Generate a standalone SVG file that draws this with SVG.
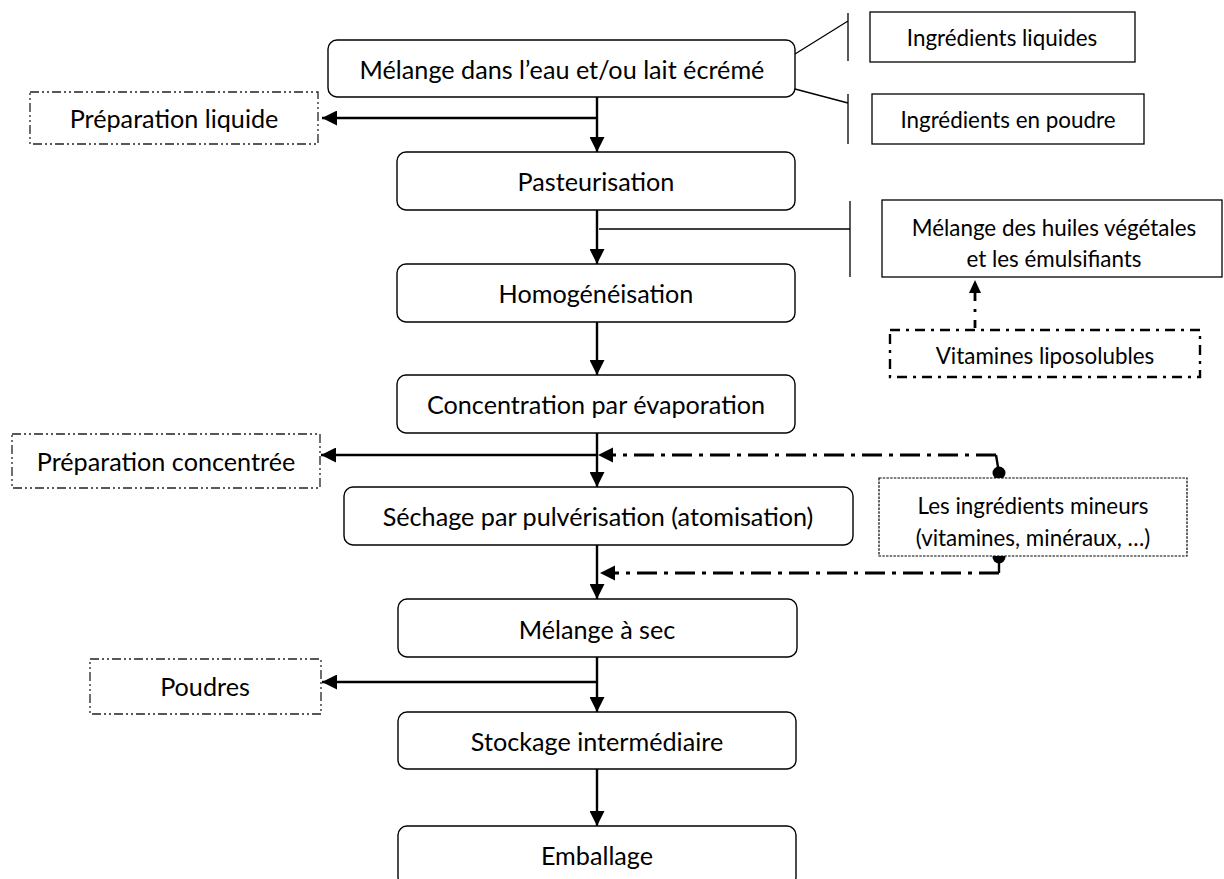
<svg xmlns="http://www.w3.org/2000/svg" width="1224" height="879" viewBox="0 0 1224 879">
<style>
text{font-family:Lato,"Liberation Sans",sans-serif;fill:#000;text-anchor:middle;dominant-baseline:central}
.m{font-size:25.2px}
.s{font-size:22.4px}
.step{fill:#fff;stroke:#000;stroke-width:1.4}
.out{fill:#fff;stroke:#222;stroke-width:1.3;stroke-dasharray:9 3 2 3 2 3}
.side{fill:#fff;stroke:#000;stroke-width:1.3}
.vit{fill:#fff;stroke:#000;stroke-width:2.4;stroke-dasharray:10 6 3 6}
.min{fill:#fff;stroke:#000;stroke-width:1.2;stroke-dasharray:2.5 1.2}
.a{fill:none;stroke:#000;stroke-width:2.4}
.thin{fill:none;stroke:#000;stroke-width:1.3}
.dd{fill:none;stroke:#000;stroke-width:2.8;stroke-dasharray:20 7 4 7}
</style>
<defs>
<marker id="ah" viewBox="0 0 15 15" refX="15" refY="7.5" markerWidth="15" markerHeight="15" markerUnits="userSpaceOnUse" orient="auto">
<path d="M0,0 L15,7.5 L0,15 Z" fill="#000"/>
</marker>
</defs>

<g id="connectors">
<path class="a" d="M597,97 V152" marker-end="url(#ah)"/>
<path class="a" d="M597,118 H322" marker-end="url(#ah)"/>
<path class="a" d="M597,210 V264" marker-end="url(#ah)"/>
<path class="a" d="M597,322 V375" marker-end="url(#ah)"/>
<path class="a" d="M597,433 V487" marker-end="url(#ah)"/>
<path class="a" d="M597,455 H321" marker-end="url(#ah)"/>
<path class="a" d="M597,545 V599" marker-end="url(#ah)"/>
<path class="a" d="M597,657 V712" marker-end="url(#ah)"/>
<path class="a" d="M597,682 H322" marker-end="url(#ah)"/>
<path class="a" d="M597,769 V826" marker-end="url(#ah)"/>
<path class="thin" d="M795,54 L848,21 M848,13 V61"/>
<path class="thin" d="M795,89 L848,103 M848,94 V144"/>
<path class="thin" d="M599,229 H850 M850,201 V277"/>
<path class="dd" d="M975,328 V290" style="stroke-dasharray:8 8 3 8"/>
<path d="M969,293 L975,280 L981,293 Z" fill="#000"/>
<path class="dd" d="M996,455 H612"/>
<path d="M613,447.5 L598,455 L613,462.5 Z" fill="#000"/>
<path class="a" d="M996,455 L999,473"/>
<circle cx="999" cy="473" r="6.5" fill="#000"/>
<path class="dd" d="M999,573 H614"/>
<path d="M615,565.5 L600,573 L615,580.5 Z" fill="#000"/>
<path class="a" d="M999,557 V573"/>
<circle cx="999" cy="557" r="6.5" fill="#000"/>
</g>

<g id="n1"><rect class="step" x="328" y="40" width="467" height="57" rx="9"/><text class="m" x="562" y="68.5">Mélange dans l’eau et/ou lait écrémé</text></g>
<g id="n2"><rect class="step" x="397" y="152" width="398" height="58" rx="9"/><text class="m" x="596" y="181">Pasteurisation</text></g>
<g id="n3"><rect class="step" x="397" y="264" width="398" height="58" rx="9"/><text class="m" x="596" y="293">Homogénéisation</text></g>
<g id="n4"><rect class="step" x="397" y="375" width="398" height="58" rx="9"/><text class="m" x="596" y="404">Concentration par évaporation</text></g>
<g id="n5"><rect class="step" x="344" y="487" width="509" height="58" rx="9"/><text class="m" x="598" y="516">Séchage par pulvérisation (atomisation)</text></g>
<g id="n6"><rect class="step" x="398" y="599" width="399" height="58" rx="9"/><text class="m" x="597" y="628.5">Mélange à sec</text></g>
<g id="n7"><rect class="step" x="398" y="712" width="398" height="57" rx="9"/><text class="m" x="597" y="740.5">Stockage intermédiaire</text></g>
<g id="n8"><rect class="step" x="398" y="826" width="398" height="60" rx="9"/><text class="m" x="597" y="855">Emballage</text></g>

<g id="o1"><rect class="out" x="30" y="92" width="288" height="52"/><text class="m" x="174" y="118">Préparation liquide</text></g>
<g id="o2"><rect class="out" x="12" y="434" width="308" height="54"/><text class="m" x="166" y="461">Préparation concentrée</text></g>
<g id="o3"><rect class="out" x="90" y="659" width="231" height="55"/><text class="m" x="205" y="686">Poudres</text></g>

<g id="i1"><rect class="side" x="870" y="12" width="265" height="50"/><text class="s" x="1002" y="37">Ingrédients liquides</text></g>
<g id="i2"><rect class="side" x="872" y="94" width="272" height="50"/><text class="s" x="1008" y="119">Ingrédients en poudre</text></g>
<g id="i3"><rect class="side" x="882" y="200" width="340" height="77"/><text class="s" x="1054" y="227">Mélange des huiles végétales</text><text class="s" x="1054" y="258">et les émulsifiants</text></g>
<g id="i4"><rect class="vit" x="890" y="330" width="310" height="47"/><text class="s" x="1045" y="355">Vitamines liposolubles</text></g>
<g id="i5"><rect class="min" x="879" y="478" width="308" height="78"/><text class="s" x="1033" y="505">Les ingrédients mineurs</text><text class="s" x="1033" y="537">(vitamines, minéraux, …)</text></g>
</svg>
